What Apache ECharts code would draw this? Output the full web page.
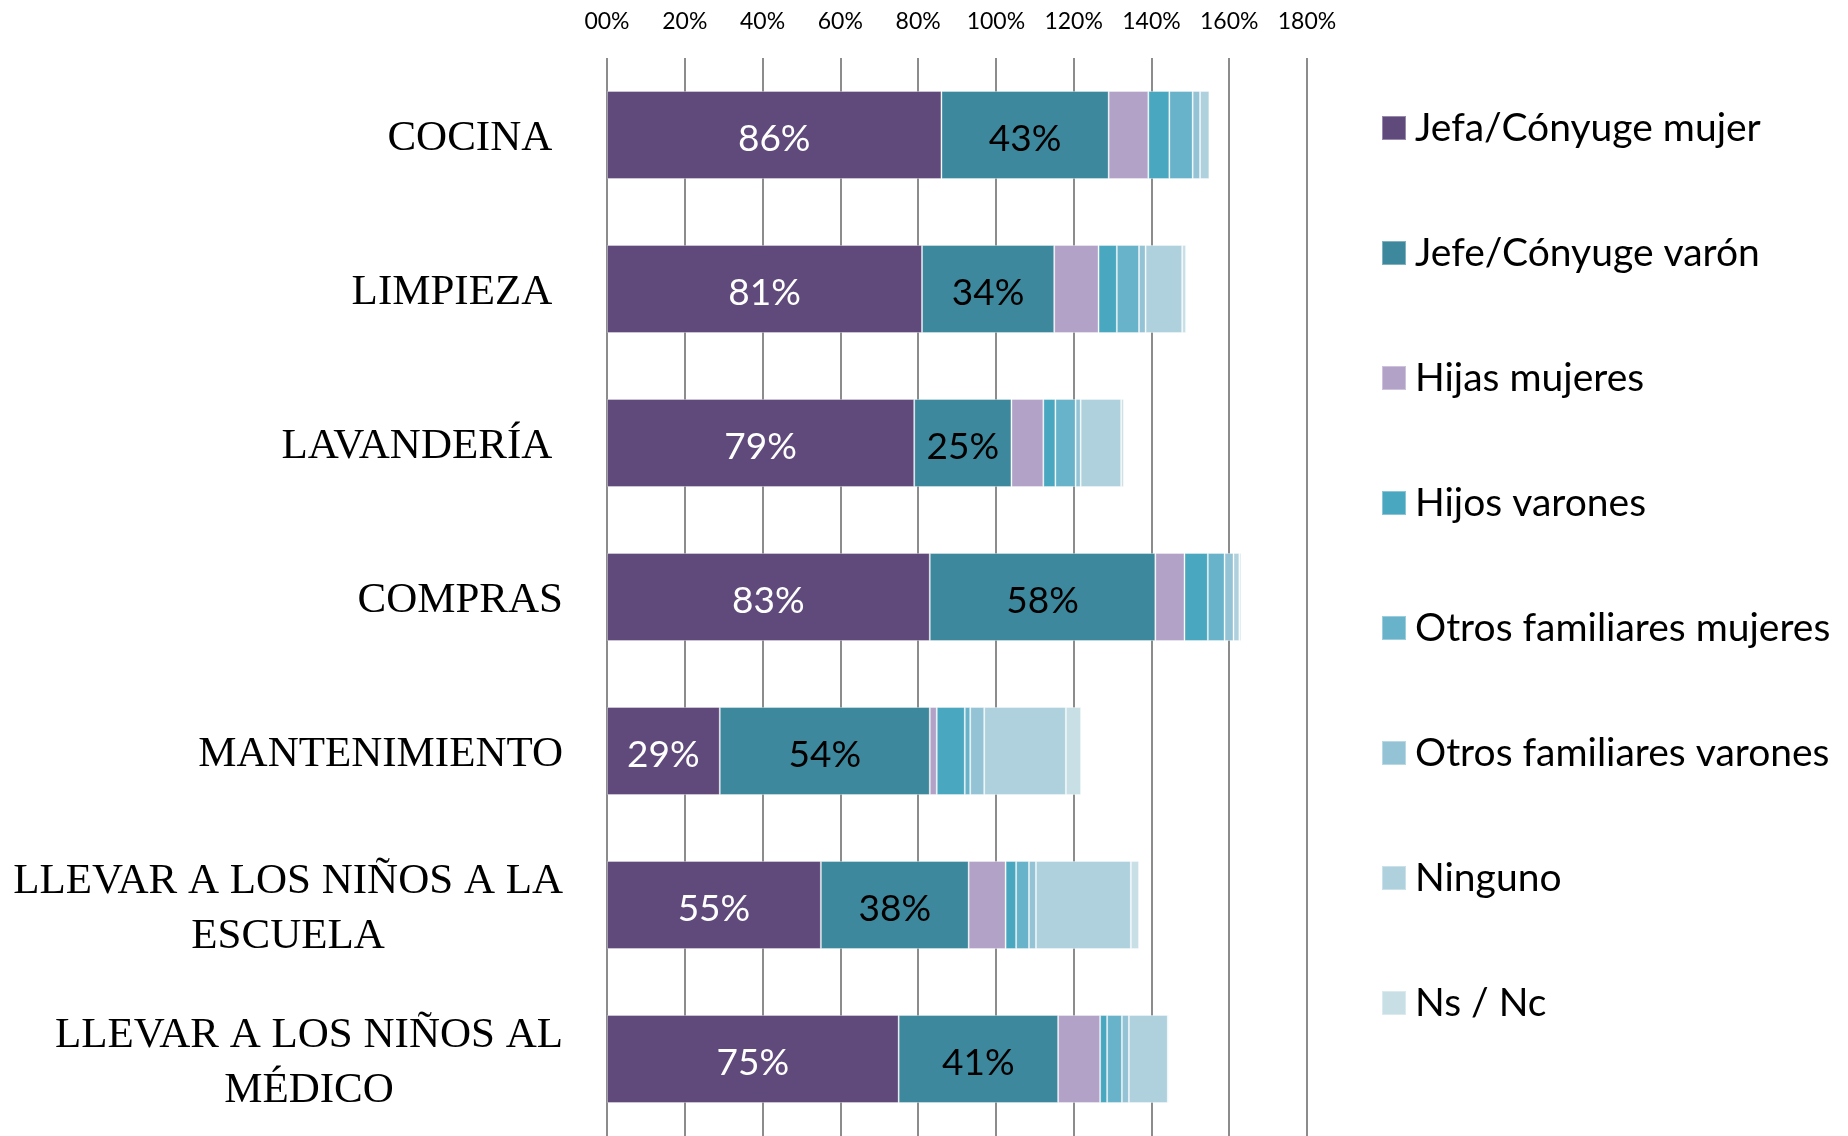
<!DOCTYPE html>
<html>
<head>
<meta charset="utf-8">
<script src="https://cdn.jsdelivr.net/npm/echarts@6/dist/echarts.min.js"></script>
<style>
  html, body { margin: 0; padding: 0; background: #fff; }
  #chart { width: 1848px; height: 1136px; }
</style>
</head>
<body>
<div id="chart"></div>
<script>
// tareas (some labels carry a trailing space, as in the original)
const categories = [
    'COCINA ',
    'LIMPIEZA ',
    'LAVANDERÍA ',
    'COMPRAS',
    'MANTENIMIENTO',
    'LLEVAR A LOS NIÑOS A LA\nESCUELA',
    'LLEVAR A LOS NIÑOS AL\nMÉDICO'
];

const seriesNames = [
    'Jefa/Cónyuge mujer',
    'Jefe/Cónyuge varón',
    'Hijas mujeres',
    'Hijos varones',
    'Otros familiares mujeres',
    'Otros familiares varones',
    'Ninguno',
    'Ns / Nc'
];

const jefaMujer = [86, 81, 79, 83, 29, 55, 75];
const jefeVaron = [43, 34, 25, 58, 54, 38, 41];
const hijasMujeres = [10.2, 11.4, 8.2, 7.5, 1.8, 9.5, 10.8];
const hijosVarones = [5.4, 4.7, 3.1, 6.0, 7.2, 2.7, 1.8];
const otrosFamMujeres = [6.0, 5.7, 5.2, 4.3, 1.4, 3.3, 3.8];
const otrosFamVarones = [1.9, 1.7, 1.3, 2.3, 3.6, 1.8, 1.8];
const ninguno = [2.4, 9.4, 10.4, 1.5, 21.0, 24.4, 10.0];
const nsNc = [0, 1.0, 0.7, 0.5, 3.9, 2.1, 0.3];

const xTicks = [0, 20, 40, 60, 80, 100, 120, 140, 160, 180];

const seriesData = [jefaMujer, jefeVaron, hijasMujeres, hijosVarones,
                    otrosFamMujeres, otrosFamVarones, ninguno, nsNc];
const colors = ['#604A7B', '#3D889D', '#B3A2C7', '#4AA7C0',
                '#68B2CA', '#93C3D5', '#AED1DD', '#C8DFE6'];
const labelColors = ['#ffffff', '#000000'];

const chart = echarts.init(document.getElementById('chart'));

const series = seriesData.map((vals, i) => ({
    name: seriesNames[i],
    type: 'bar',
    stack: 'total',
    barWidth: 88,
    data: vals,
    itemStyle: {
        color: colors[i],
        borderColor: 'rgba(255,255,255,0.35)',
        borderWidth: 1
    },
    label: {
        show: i < 2,
        position: 'inside',
        offset: [0, 4],
        formatter: p => Math.round(p.value) + '%',
        color: labelColors[i],
        fontFamily: 'Lato',
        fontSize: 37
    }
}));

const option = {
    backgroundColor: '#fff',
    animation: false,
    color: colors,
    grid: {
        left: 607,
        right: 541,
        top: 58,
        height: 1083
    },
    legend: {
        orient: 'vertical',
        left: 1376,
        top: 102,
        itemWidth: 24,
        itemHeight: 24,
        itemGap: 83,
        icon: 'rect',
        data: seriesNames,
        textStyle: {
            fontFamily: 'Lato',
            fontSize: 39,
            lineHeight: 42,
            color: '#000',
            padding: [0, 0, 0, 4]
        }
    },
    xAxis: {
        type: 'value',
        position: 'top',
        min: xTicks[0],
        max: xTicks[xTicks.length - 1],
        interval: 20,
        axisLine: { show: false },
        axisTick: { show: false },
        axisLabel: {
            margin: 25,
            fontFamily: 'Lato',
            fontSize: 23,
            color: '#000',
            formatter: v => (v < 10 ? '0' + v : v) + '%'
        },
        splitLine: {
            show: true,
            lineStyle: { color: '#8c8c8c', width: 2 }
        }
    },
    yAxis: {
        type: 'category',
        inverse: true,
        data: categories,
        axisLine: { show: false },
        axisTick: { show: false },
        axisLabel: {
            margin: 44,
            align: 'right',
            padding: [8, 0, 0, 0],
            formatter: v => v.split('\n').map(l => '{c|' + l + '}').join('\n'),
            rich: {
                c: {
                    align: 'center',
                    fontFamily: 'Liberation Serif',
                    fontSize: 43,
                    lineHeight: 55,
                    color: '#000'
                }
            }
        }
    },
    series: series
};

chart.setOption(option);

window.addEventListener('resize', () => {
    chart.resize();
});
</script>
</body>
</html>
